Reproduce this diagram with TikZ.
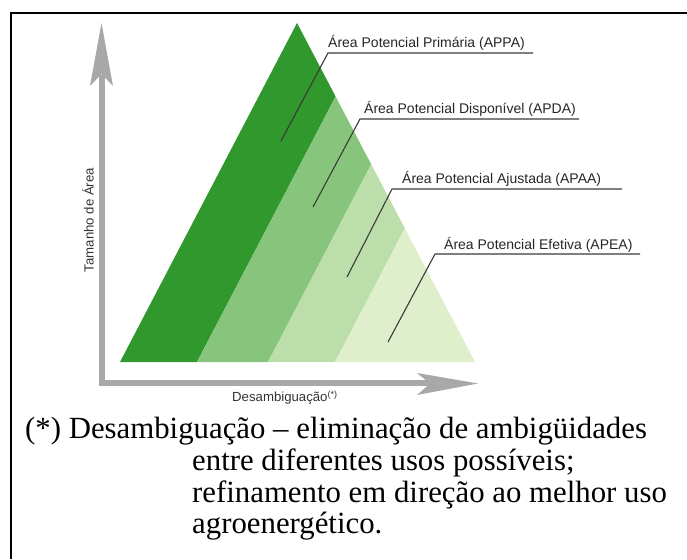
\documentclass[tikz,border=0pt]{standalone}
\usepackage{fontspec}
\setmainfont{Liberation Serif}
\newfontfamily\lblfont{Liberation Sans}
\definecolor{gDark}{RGB}{48,152,44}
\definecolor{gMed}{RGB}{136,197,124}
\definecolor{gLight}{RGB}{187,222,170}
\definecolor{gPale}{RGB}{223,238,203}
\definecolor{axisgray}{RGB}{168,168,168}
\definecolor{leadgray}{RGB}{58,58,58}
\tikzset{
  frameline/.style={line width=2.6pt, black},
  axisline/.style={line width=6pt, axisgray},
  axishead/.style={fill=axisgray, draw=none},
  leader/.style={line width=1.1pt, leadgray},
  axlbl/.style={font=\lblfont\fontsize{13.2}{15}\selectfont, inner sep=0pt, anchor=base west, text=black!80},
  lbl/.style={font=\lblfont\fontsize{14}{15}\selectfont, inner sep=0pt, anchor=base west, text=black!85},
  note/.style={font=\fontsize{30.8}{32}\selectfont, inner sep=0pt, anchor=base west}
}
\begin{document}
\begin{tikzpicture}[x=1pt,y=-1pt]
\useasboundingbox (0,0) rectangle (687,559);
% frame
\draw[frameline] (11,559) -- (11,13) -- (687,13);
% triangle corners
\coordinate (A) at (120,362);
\coordinate (P) at (297,23);
\coordinate (R) at (475,362);
\coordinate (b1) at (197,362);
\coordinate (t1) at (335.6,96.5);
\coordinate (b2) at (268,362);
\coordinate (t2) at (371.2,164.3);
\coordinate (b3) at (335,362);
\coordinate (t3) at (404.8,228.3);
\fill[gDark] (A) -- (P) -- (t1) -- (b1) -- cycle;
\fill[gMed] (b1) -- (t1) -- (t2) -- (b2) -- cycle;
\fill[gLight] (b2) -- (t2) -- (t3) -- (b3) -- cycle;
\fill[gPale] (b3) -- (t3) -- (R) -- cycle;
% axes
\coordinate (origin) at (101.5,382.5);
\coordinate (ytip) at (101.5,23);
\coordinate (xtip) at (478,383.5);
\draw[axisline, line join=miter] (101.5,75) -- (origin) -- (430,382.5);
\fill[axishead] (ytip) -- (113,86) -- (101.5,74) -- (90,86) -- cycle;
\fill[axishead] (xtip) -- (417,395) -- (430,383.5) -- (417,373) -- cycle;
\node[axlbl, anchor=center, rotate=90] (ylab) at (88,220) {Tamanho de Área};
\node[axlbl] (xlab) at (232,401.5) {Desambiguação\raisebox{4.5pt}{\fontsize{9}{10}\selectfont(*)}};
% labels and leaders
\node[lbl] (appa) at (328,47.5) {Área Potencial Primária (APPA)};
\coordinate (c1) at (328,53);
\coordinate (e1) at (533,53);
\coordinate (p1) at (281,141);
\draw[leader] (p1) -- (c1) -- (e1);
\node[lbl] (apda) at (364,113.5) {Área Potencial Disponível (APDA)};
\coordinate (c2) at (360,119);
\coordinate (e2) at (579,119);
\coordinate (p2) at (313,207);
\draw[leader] (p2) -- (c2) -- (e2);
\node[lbl] (apaa) at (402,183) {Área Potencial Ajustada (APAA)};
\coordinate (c3) at (392,189);
\coordinate (e3) at (622,189);
\coordinate (p3) at (347,277);
\draw[leader] (p3) -- (c3) -- (e3);
\node[lbl] (apea) at (444,249) {Área Potencial Efetiva (APEA)};
\coordinate (c4) at (435,254);
\coordinate (e4) at (640,254);
\coordinate (p4) at (388,342);
\draw[leader] (p4) -- (c4) -- (e4);
% footnote
\node[note] (n1) at (25,438) {(*) Desambiguação – eliminação de ambigüidades};
\node[note] (n2) at (192,470) {entre diferentes usos possíveis;};
\node[note] (n3) at (192,502) {refinamento em direção ao melhor uso};
\node[note] (n4) at (192,533) {agroenergético.};
\end{tikzpicture}
\end{document}
